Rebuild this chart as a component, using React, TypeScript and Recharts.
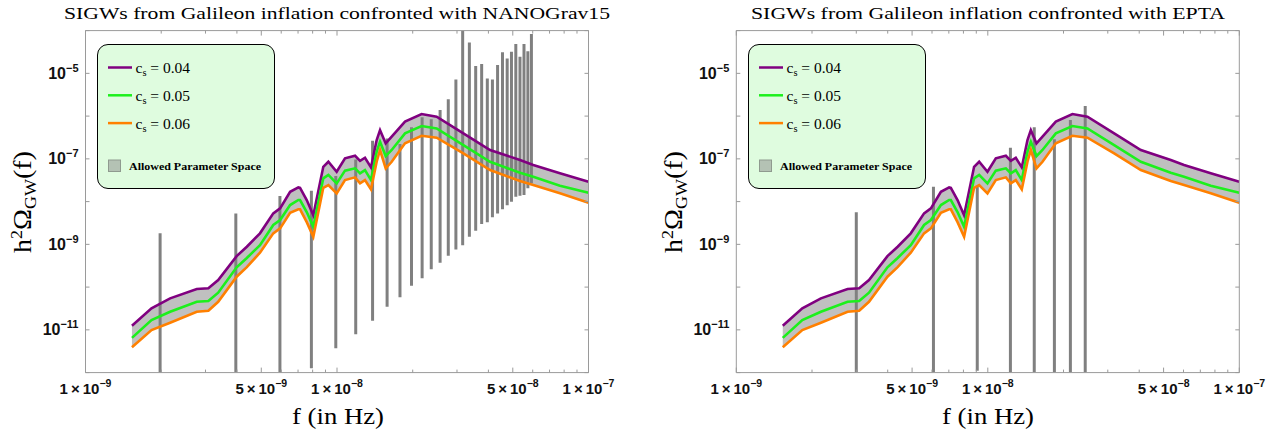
import React from 'react';
import { ComposedChart, Line, Area, XAxis, YAxis, ReferenceLine, Legend } from 'recharts';

// model curves, h^2 Omega_GW(f) for three sound speeds
const FREQ = [
  1.53e-9, 1.83e-9, 2.17e-9, 2.77e-9, 3.08e-9, 3.37e-9, 3.99e-9, 4.38e-9, 4.94e-9, 5.58e-9,
  5.94e-9, 6.51e-9, 7.02e-9, 7.13e-9, 7.58e-9, 8.05e-9, 8.82e-9, 9.24e-9, 9.97e-9, 1.076e-8,
  1.18e-8, 1.235e-8, 1.292e-8, 1.365e-8, 1.438e-8, 1.483e-8, 1.562e-8, 1.65e-8, 1.864e-8, 2.17e-8,
  2.49e-8, 3.18e-8, 4.06e-8, 5.34e-8, 6.03e-8, 7.7e-8, 1.0e-7,
];
const CS_004 = [
  1.25e-11, 3.18e-11, 5.46e-11, 9.0e-11, 9.35e-11, 1.46e-10, 5.3e-10, 8.8e-10, 1.81e-9, 5.3e-9,
  6.95e-9, 1.7e-8, 2.15e-8, 2.1e-8, 1.09e-8, 4.8e-9, 6.5e-8, 8.55e-8, 4.99e-8, 1.03e-7,
  1.18e-7, 9.0e-8, 1.06e-7, 6.3e-8, 2.75e-7, 4.7e-7, 2.3e-7, 3.3e-7, 7.4e-7, 1.12e-6,
  9.7e-7, 3.95e-7, 1.61e-7, 9.4e-8, 7.2e-8, 4.6e-8, 2.9e-8,
];
const CS_005 = [
  6.5e-12, 1.7e-11, 2.65e-11, 4.54e-11, 4.72e-11, 7.4e-11, 2.9e-10, 4.8e-10, 9.6e-10, 2.83e-9,
  3.7e-9, 8.3e-9, 1.09e-8, 1.09e-8, 5.7e-9, 2.58e-9, 3.5e-8, 4.2e-8, 2.67e-8, 5.3e-8,
  6.0e-8, 4.58e-8, 5.47e-8, 3.19e-8, 1.47e-7, 2.51e-7, 1.16e-7, 1.61e-7, 3.95e-7, 5.85e-7,
  5.16e-7, 2.1e-7, 8.55e-8, 4.73e-8, 3.81e-8, 2.35e-8, 1.61e-8,
];
const CS_006 = [
  3.9e-12, 9.9e-12, 1.47e-11, 2.65e-11, 2.8e-11, 4.54e-11, 1.75e-10, 2.94e-10, 6.4e-10, 1.81e-9,
  2.37e-9, 5.5e-9, 6.6e-9, 6.6e-9, 3.3e-9, 1.51e-9, 2.11e-8, 2.44e-8, 1.56e-8, 3.19e-8,
  3.69e-8, 2.67e-8, 3.19e-8, 1.94e-8, 8.55e-8, 1.61e-7, 6.0e-8, 8.55e-8, 2.31e-7, 3.47e-7,
  3.12e-7, 1.35e-7, 5.47e-8, 3.03e-8, 2.44e-8, 1.56e-8, 9.4e-9,
];

// NANOGrav15 bins
const NG_FREQ = [
  1.98e-9, 3.96e-9, 5.93e-9, 7.91e-9, 9.89e-9, 1.187e-8, 1.385e-8, 1.582e-8, 1.78e-8, 1.978e-8,
  2.18e-8, 2.37e-8, 2.57e-8, 2.77e-8, 2.97e-8, 3.16e-8, 3.36e-8, 3.56e-8, 3.76e-8, 3.96e-8,
  4.15e-8, 4.35e-8, 4.55e-8, 4.75e-8, 4.94e-8, 5.14e-8, 5.34e-8, 5.54e-8, 5.74e-8, 5.93e-8,
];
const NG_TOP = [
  1.81e-9, 5.3e-9, 1.35e-8, 1.8e-8, 3.96e-8, 9.7e-8, 2.65e-7, 3.0e-7, 2.22e-7, 5.45e-7,
  9.35e-7, 8.4e-7, 1.39e-6, 2.47e-6, 7.2e-6, 1e-4, 5.3e-5, 1.48e-5, 1.65e-5, 7.6e-6,
  7.2e-6, 1.56e-5, 3.1e-5, 2.24e-5, 3.2e-5, 4.84e-5, 2.44e-5, 4.84e-5, 3.3e-5, 8.3e-5,
];
const NG_BOT = [
  1e-12, 1e-12, 1e-12, 1.26e-12, 3.7e-12, 7.85e-12, 1.63e-11, 3.47e-11, 5.75e-11, 1.08e-10,
  1.6e-10, 2.6e-10, 3.7e-10, 5.4e-10, 7.6e-10, 9.5e-10, 1.51e-9, 2.08e-9, 2.99e-9, 3.27e-9,
  4.3e-9, 5.3e-9, 6.6e-9, 8.2e-9, 9.9e-9, 1.3e-8, 1.37e-8, 1.42e-8, 2.04e-8, 2.67e-8,
];

// EPTA bins
const EPTA_FREQ = [3.0e-9, 6.08e-9, 9.08e-9, 1.23e-8, 1.53e-8, 1.84e-8, 2.13e-8, 2.44e-8];
const EPTA_TOP = [5.6e-9, 2.22e-8, 2.3e-8, 1.82e-7, 5.45e-7, 2.86e-7, 8.1e-7, 1.72e-6];
const EPTA_BOT = [1e-12, 1e-12, 1.1e-12, 1e-12, 1e-12, 1e-12, 1e-12, 1e-12];

const X_TICKS = [
  1e-9, 2e-9, 3e-9, 4e-9, 5e-9, 6e-9, 7e-9, 8e-9, 9e-9,
  1e-8, 2e-8, 3e-8, 4e-8, 5e-8, 6e-8, 7e-8, 8e-8, 9e-8, 1e-7,
];
const X_LABELED = [1e-9, 5e-9, 1e-8, 5e-8, 1e-7];
const Y_TICKS = [1e-12, 1e-11, 1e-10, 1e-9, 1e-8, 1e-7, 1e-6, 1e-5, 1e-4];
const Y_LABELED = [1e-11, 1e-9, 1e-7, 1e-5];

const SERIES = [
  { key: 'p', name: '0.04', color: '#800080' },
  { key: 'g', name: '0.05', color: '#1cf01c' },
  { key: 'o', name: '0.06', color: '#ff8000' },
];

const FRAME = '#9a9a9a';
const BAR = '#808080';
const SERIF = 'Liberation Serif, DejaVu Serif, serif';
const SANS = 'Liberation Sans, Arial, sans-serif';

const rows = FREQ.map((f, i) => ({ f, p: CS_004[i], g: CS_005[i], o: CS_006[i], band: [CS_006[i], CS_004[i]] }));

const isIn = (v: number, arr: number[]) => arr.some(a => Math.abs(a - v) / a < 1e-6);
const expOf = (v: number) => Math.floor(Math.log10(v) + 1e-9);
const mantOf = (v: number) => Math.round(v / Math.pow(10, expOf(v)));

function BottomTick({ x, y, payload }: any) {
  const v = payload.value;
  const lab = isIn(v, X_LABELED);
  return (
    <g>
      <line x1={x} x2={x} y1={y} y2={y - (lab ? 5 : 3)} stroke={FRAME} />
      {lab && (
        <text x={x} y={y + 21} textAnchor="middle" style={{ fontFamily: SANS }} fontWeight="bold" fontSize={15} fill="#111">
          {mantOf(v)}{'\u2009×\u2009'}10<tspan dy={-6.5} fontSize={10.5}>−{-expOf(v)}</tspan>
        </text>
      )}
    </g>
  );
}

function TopTick({ x, y, payload }: any) {
  const lab = isIn(payload.value, X_LABELED);
  return <line x1={x} x2={x} y1={y} y2={y + (lab ? 5 : 3)} stroke={FRAME} />;
}

function LeftTick({ x, y, payload }: any) {
  const v = payload.value;
  const lab = isIn(v, Y_LABELED);
  return (
    <g>
      <line x1={x} x2={x + 4} y1={y} y2={y} stroke={FRAME} />
      {lab && (
        <text x={x - 7} y={y + 5.5} textAnchor="end" style={{ fontFamily: SANS }} fontWeight="bold" fontSize={16} fill="#111">
          10<tspan dy={-7} fontSize={11}>−{-expOf(v)}</tspan>
        </text>
      )}
    </g>
  );
}

function RightTick({ x, y }: any) {
  return <line x1={x} x2={x - 4} y1={y} y2={y} stroke={FRAME} />;
}

function LegendBox() {
  return (
    <div style={{ width: 178, height: 145, boxSizing: 'border-box', border: '1.5px solid #000', borderRadius: 11, background: '#dffcdf' }}>
      <svg width={175} height={142} style={{ display: 'block' }}>
        {SERIES.map((s, i) => {
          const y = 22.5 + i * 27.8;
          return (
            <g key={s.key}>
              <line x1={10} x2={34} y1={y} y2={y} stroke={s.color} strokeWidth={2.5} />
              <text x={37.5} y={y + 5.5} style={{ fontFamily: SERIF }} fontSize={15.5} fill="#000">
                c<tspan dy={3} fontSize={10.5}>s</tspan><tspan dy={-3}> = {s.name}</tspan>
              </text>
            </g>
          );
        })}
        <rect x={10.5} y={115} width={12} height={11.5} fill="#b4c2b4" stroke="#8f9a8f" />
        <text x={31} y={124.5} style={{ fontFamily: SERIF }} fontSize={10.5} fontWeight="bold" fill="#000" textLength={132} lengthAdjust="spacingAndGlyphs">
          Allowed Parameter Space
        </text>
      </svg>
    </div>
  );
}

function Panel({ bars, margin, legendLeft }: { bars: { f: number; top: number; bot: number }[]; margin: any; legendLeft: number }) {
  return (
    <ComposedChart width={640} height={439} data={rows} margin={margin}>
      <XAxis dataKey="f" type="number" scale="log" domain={[1e-9, 1e-7]} allowDataOverflow ticks={X_TICKS} interval={0}
        height={40} tickSize={0} tickMargin={0} tick={<BottomTick />} axisLine={{ stroke: FRAME }} />
      <XAxis xAxisId="top" orientation="top" dataKey="f" type="number" scale="log" domain={[1e-9, 1e-7]} allowDataOverflow
        ticks={X_TICKS} interval={0} height={2} tickSize={0} tickMargin={0} tick={<TopTick />} axisLine={{ stroke: FRAME }} />
      <YAxis type="number" scale="log" domain={[1e-12, 1e-4]} allowDataOverflow ticks={Y_TICKS} interval={0}
        width={60} tickSize={0} tickMargin={0} tick={<LeftTick />} axisLine={{ stroke: FRAME }} />
      <YAxis yAxisId="right" orientation="right" type="number" scale="log" domain={[1e-12, 1e-4]} allowDataOverflow ticks={Y_TICKS}
        interval={0} width={2} tickSize={0} tickMargin={0} tick={<RightTick />} axisLine={{ stroke: FRAME }} />
      <Legend layout="vertical" align="center" verticalAlign="middle" content={() => <LegendBox />}
        wrapperStyle={{ left: legendLeft, top: 44, width: 178, height: 145 }} />
      <Area dataKey="band" type="linear" stroke="none" fill="#c0c0c0" fillOpacity={1} isAnimationActive={false} legendType="square" name="Allowed Parameter Space" />
      {bars.map((b, i) => (
        <ReferenceLine key={i} segment={[{ x: b.f, y: b.bot }, { x: b.f, y: b.top }]} stroke={BAR} strokeWidth={3} ifOverflow="hidden" />
      ))}
      {SERIES.map(s => (
        <Line key={s.key} dataKey={s.key} name={`c_s = ${s.name}`} type="linear" stroke={s.color} strokeWidth={2.6} dot={false} isAnimationActive={false} />
      ))}
    </ComposedChart>
  );
}

const ngBars = NG_FREQ.map((f, i) => ({ f, top: NG_TOP[i], bot: NG_BOT[i] }));
const eptaBars = EPTA_FREQ.map((f, i) => ({ f, top: EPTA_TOP[i], bot: EPTA_BOT[i] }));

function YLabel({ x }: { x: number }) {
  return (
    <text x={x} y={202} transform={`rotate(-90, ${x}, 202)`} textAnchor="middle" style={{ fontFamily: SERIF }} fontSize={25} fill="#000"
      textLength={102} lengthAdjust="spacingAndGlyphs">
      h<tspan dy={-9} fontSize={16}>2</tspan><tspan dy={9}>Ω</tspan><tspan dy={5} fontSize={16}>GW</tspan><tspan dy={-5}>(f)</tspan>
    </text>
  );
}

export default function App() {
  return (
    <div style={{ position: 'absolute', left: 0, top: 0, width: 1280, height: 439, background: '#fff' }}>
      <div style={{ position: 'absolute', left: 0, top: 0 }}>
        <Panel bars={ngBars} legendLeft={96.7} margin={{ top: 28.6, right: 49.5, bottom: 26.4, left: 25.5 }} />
      </div>
      <div style={{ position: 'absolute', left: 640, top: 0 }}>
        <Panel bars={eptaBars} legendLeft={107.5} margin={{ top: 28.6, right: 38.7, bottom: 26.4, left: 36.3 }} />
      </div>
      <svg width={1280} height={439} style={{ position: 'absolute', left: 0, top: 0, pointerEvents: 'none' }}>
        <text x={337} y={19} textAnchor="middle" style={{ fontFamily: SERIF }} fontSize={17} fill="#000" textLength={546} lengthAdjust="spacingAndGlyphs">
          SIGWs from Galileon inflation confronted with NANOGrav15
        </text>
        <text x={988} y={19} textAnchor="middle" style={{ fontFamily: SERIF }} fontSize={17} fill="#000" textLength={474} lengthAdjust="spacingAndGlyphs">
          SIGWs from Galileon inflation confronted with EPTA
        </text>
        <text x={338} y={424} textAnchor="middle" style={{ fontFamily: SERIF }} fontSize={24} fill="#000" textLength={92} lengthAdjust="spacingAndGlyphs">f (in Hz)</text>
        <text x={988} y={424} textAnchor="middle" style={{ fontFamily: SERIF }} fontSize={24} fill="#000" textLength={92} lengthAdjust="spacingAndGlyphs">f (in Hz)</text>
        <YLabel x={31} />
        <YLabel x={682} />
      </svg>
    </div>
  );
}
